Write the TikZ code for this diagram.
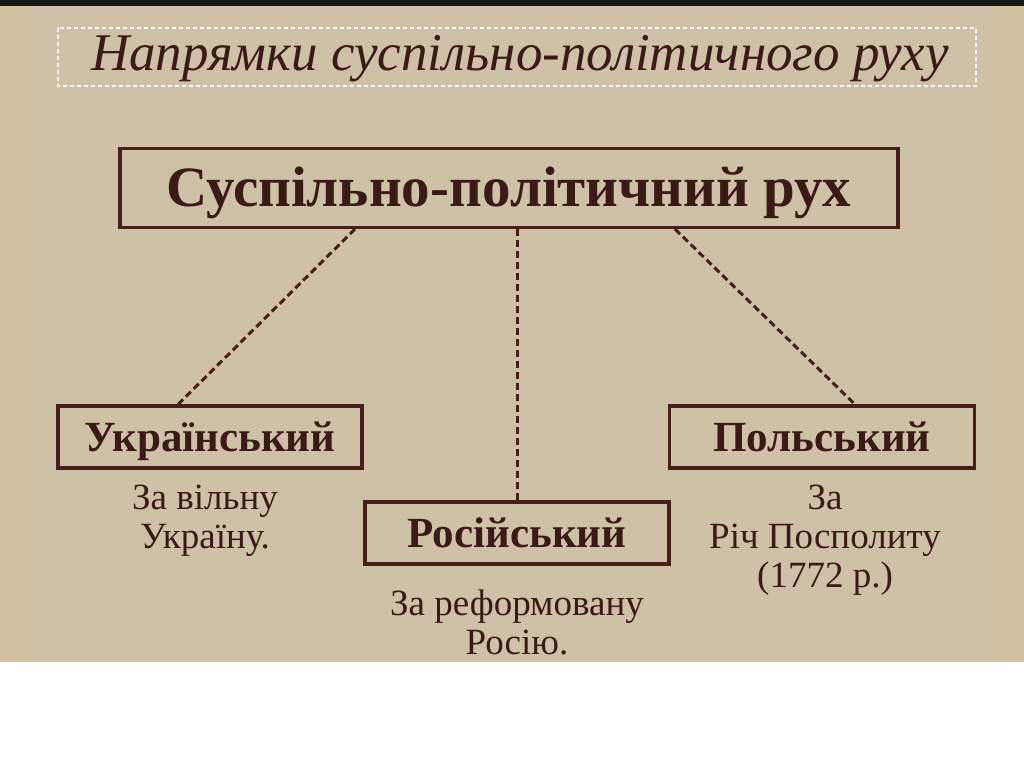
\documentclass[tikz,border=0pt]{standalone}
\usepackage{fontspec}
\setmainfont{Liberation Serif}
\usetikzlibrary{calc}
\definecolor{parch}{RGB}{206,193,168}
\definecolor{parchedge}{RGB}{214,196,150}
\definecolor{ink}{RGB}{58,26,20}
\definecolor{boxink}{RGB}{70,30,26}
\tikzset{
  catbox/.style={draw=boxink, line width=3.2pt, minimum height=62pt, inner sep=0pt, text=ink, text height=28.4pt, text depth=0pt, font=\bfseries\fontsize{43}{48}\selectfont},
  mainbox/.style={draw=boxink, line width=3.2pt, minimum width=778pt, minimum height=79pt, inner sep=0pt, text=ink, text height=37.6pt, text depth=0pt, font=\bfseries\fontsize{57}{62}\selectfont},
  goal/.style={text=ink, align=center, font=\fontsize{37}{39}\selectfont, inner sep=0pt},
  link/.style={draw=boxink, line width=3pt, dash pattern=on 7pt off 4pt}
}
\begin{document}
\begin{tikzpicture}[x=1pt,y=-1pt]
\useasboundingbox (0,0) rectangle (1024,767);
\fill[white] (0,0) rectangle (1024,767);
\fill[parch] (0,0) rectangle (1024,662);
\fill[parchedge, opacity=0.35] (0,0) rectangle (30,662);
\fill[parchedge, opacity=0.35] (994,0) rectangle (1024,662);
\fill[black!90] (0,0) rectangle (1024,6);
% title frame
\draw[white!92!parch, line width=1.5pt, dash pattern=on 4pt off 3pt] (58,28) rectangle (976,86);
\node[text=ink, font=\itshape\fontsize{53}{58}\selectfont, inner sep=0pt, text height=35pt, text depth=0pt] (title) at (520,53) {Напрямки суспільно-політичного руху};
% boxes
\node[mainbox] (main) at (509,188) {Суспільно-політичний рух};
\node[catbox, minimum width=304pt] (ukr) at (210,437) {Український};
\node[catbox, minimum width=304pt] (rus) at (517,533) {Російський};
\node[catbox, minimum width=305pt] (pol) at (822,437) {Польський};
% connectors
\draw[link] ($(main.south)+(-154,0)$) -- ($(ukr.north)+(-32,0)$);
\draw[link] (main.south -| rus.north) -- (rus.north);
\draw[link] ($(main.south)+(166,0)$) -- ($(pol.north)+(33,0)$);
% goals
\node[goal] (gukr) at (205,521) {За вільну\\ Україну.};
\node[goal] (grus) at (517,622) {За реформовану\\ Росію.};
\node[goal] (gpol) at (825,540) {За\\ Річ Посполиту\\ (1772 р.)};
\end{tikzpicture}
\end{document}
